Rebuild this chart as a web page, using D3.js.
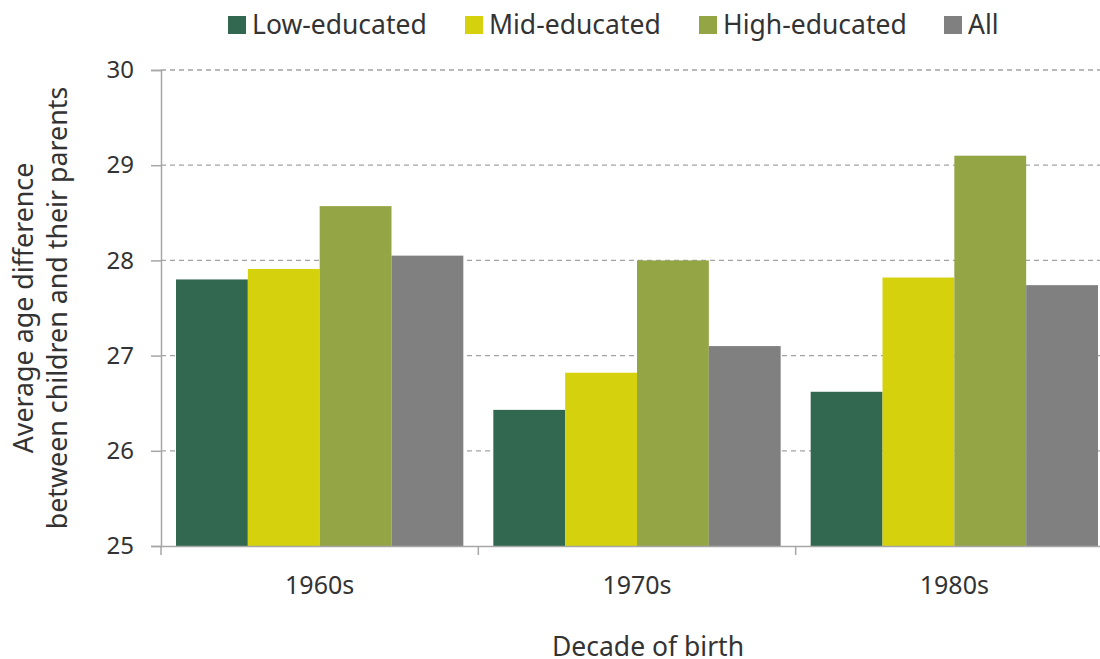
<!DOCTYPE html>
<html>
<head>
<meta charset="utf-8">
<script src="https://cdn.jsdelivr.net/npm/d3@7"></script>
<style>
  body { margin: 0; background: #fff; }
  svg { display: block; font-family: "Noto Sans", "Open Sans", sans-serif; }
  svg text { font-family: "Noto Sans", "Open Sans", sans-serif; }
</style>
</head>
<body>
<div id="chart"></div>
<script>
// Chart data
const decades = ['1960s', '1970s', '1980s'];
const seriesNames = ['Low-educated', 'Mid-educated', 'High-educated', 'All'];
const lowEducated = [27.8, 26.43, 26.62];
const midEducated = [27.91, 26.82, 27.82];
const highEducated = [28.57, 28.0, 29.1];
const allGroups = [28.05, 27.1, 27.74];
const yTicks = [25, 26, 27, 28, 29, 30];
const colors = ['#336850', '#d5d10d', '#94a545', '#808080'];

(function() {
    const width = 1100, height = 659;
    const margin = {top: 70, right: -13, bottom: 113, left: 161};
    const innerW = width - margin.left - margin.right;
    const innerH = height - margin.top - margin.bottom;

    const seriesValues = [lowEducated, midEducated, highEducated, allGroups];
    const rows = decades.map((d, i) => ({
        decade: d,
        values: seriesNames.map((s, j) => ({series: s, idx: j, value: seriesValues[j][i]}))
    }));

    const svg = d3.select('#chart')
        .append('svg')
        .attr('width', width)
        .attr('height', height);

    const g = svg.append('g')
        .attr('transform', `translate(${margin.left},${margin.top})`);

    const x0 = d3.scaleBand()
        .domain(decades)
        .range([0, innerW])
        .paddingInner(0)
        .paddingOuter(0);

    const x1 = d3.scaleBand()
        .domain(seriesNames)
        .range([15, x0.bandwidth() - 15])
        .padding(0);

    const y = d3.scaleLinear()
        .domain([25, 30])
        .range([innerH, 0]);

    // Grid lines
    g.append('g')
        .selectAll('line')
        .data(yTicks.filter(t => t > 25))
        .enter()
        .append('line')
        .attr('x1', 0)
        .attr('x2', innerW)
        .attr('y1', d => y(d))
        .attr('y2', d => y(d))
        .attr('stroke', '#a3a3a3')
        .attr('stroke-width', 1.3)
        .attr('stroke-dasharray', '5,4');

    // Bars
    const groups = g.selectAll('.grp')
        .data(rows)
        .enter()
        .append('g')
        .attr('transform', d => `translate(${x0(d.decade)},0)`);

    groups.selectAll('rect')
        .data(d => d.values)
        .enter()
        .append('rect')
        .attr('x', d => x1(d.series))
        .attr('y', d => y(d.value))
        .attr('width', x1.bandwidth())
        .attr('height', d => y(25) - y(d.value))
        .attr('fill', d => colors[d.idx]);

    // Y axis
    const yAxis = g.append('g')
        .call(d3.axisLeft(y).tickValues(yTicks).tickSize(10).tickPadding(17).tickFormat(d3.format('d')));
    yAxis.attr('font-family', null);
    yAxis.select('.domain').attr('stroke', '#a6a6a6').attr('stroke-width', 1.5);
    yAxis.selectAll('.tick line').attr('stroke', '#a6a6a6').attr('stroke-width', 1.5);
    yAxis.selectAll('.tick text')
        .style('font-size', '24px')
        .style('fill', '#333');

    // X axis
    const xAxis = g.append('g')
        .attr('transform', `translate(0,${innerH})`)
        .call(d3.axisBottom(x0).tickSize(0).tickPadding(30));
    xAxis.attr('font-family', null);
    xAxis.select('.domain').attr('stroke', '#a6a6a6').attr('stroke-width', 1.5);
    xAxis.selectAll('.tick text')
        .style('font-size', '25px')
        .style('fill', '#333');

    // Group separator ticks
    g.append('g')
        .selectAll('line')
        .data(decades)
        .enter()
        .append('line')
        .attr('x1', d => x0(d))
        .attr('x2', d => x0(d))
        .attr('y1', innerH)
        .attr('y2', innerH + 9)
        .attr('stroke', '#a6a6a6')
        .attr('stroke-width', 1.5);

    // Axis titles
    svg.append('text')
        .attr('x', 648)
        .attr('y', 656)
        .attr('text-anchor', 'middle')
        .style('font-size', '26.5px')
        .style('fill', '#333')
        .text('Decade of birth');

    const yTitle = svg.append('text')
        .attr('transform', 'translate(0,308) rotate(-90)')
        .attr('text-anchor', 'middle')
        .style('font-size', '26.8px')
        .style('fill', '#333');
    yTitle.append('tspan').attr('x', 0).attr('y', 33).text('Average age difference');
    yTitle.append('tspan').attr('x', 0).attr('y', 67).text('between children and their parents');

    // Legend
    const legendX = [228, 465, 699, 944];
    const legend = svg.append('g');
    const items = legend.selectAll('g')
        .data(seriesNames)
        .enter()
        .append('g')
        .attr('transform', (d, i) => `translate(${legendX[i]},0)`);
    items.append('rect')
        .attr('x', 0)
        .attr('y', 16)
        .attr('width', 18)
        .attr('height', 18)
        .attr('fill', (d, i) => colors[i]);
    items.append('text')
        .attr('x', 24)
        .attr('y', 34)
        .style('font-size', '26.5px')
        .style('fill', '#333')
        .text(d => d);
})();
</script>
</body>
</html>
